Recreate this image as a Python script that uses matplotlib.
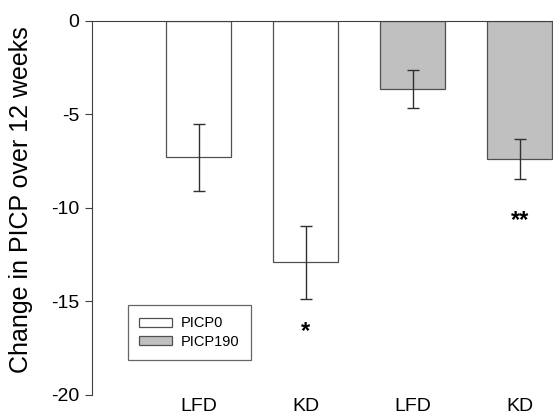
import matplotlib.pyplot as plt

plt.rcParams['font.family'] = ['Liberation Sans', 'DejaVu Sans']

groups = ["LFD", "KD", "LFD", "KD"]
series = ["PICP0", "PICP0", "PICP190", "PICP190"]
values = [-7.3, -12.9, -3.65, -7.4]
errors = [1.8, 1.95, 1.0, 1.07]
stars = ["", "*", "", "**"]
star_y = [None, -16.6, None, -10.7]

colors = {"PICP0": "white", "PICP190": "#c0c0c0"}

fig = plt.figure(figsize=(5.53, 4.17), dpi=100)
ax = fig.add_axes([0.166, 0.053, 0.834, 0.897])

pos = [1, 2, 3, 4]
for x, s, v, e in zip(pos, series, values, errors):
    ax.bar(x, v, width=0.61, color=colors[s], edgecolor="#505050", linewidth=0.9,
           label=s)
    ax.errorbar(x, v, yerr=e, fmt="none", ecolor="#303030", elinewidth=1,
                capsize=4.3, capthick=1)

for x, s, y in zip(pos, stars, star_y):
    if s:
        ax.text(x, y, s, ha="center", va="center", fontsize=17, fontweight="bold")

ax.set_xlim(0, 4.31)
ax.set_ylim(-20, 0)
ax.set_yticks([0, -5, -10, -15, -20])
ax.set_yticklabels(["0", "-5", "-10", "-15", "-20"], fontsize=14)
ax.set_xticks(pos)
ax.set_xticklabels(groups, fontsize=14)
ax.tick_params(axis="x", length=0, pad=2)
ax.tick_params(axis="y", length=5, color="#404040", pad=4)
ax.set_ylabel("Change in PICP over 12 weeks", fontsize=18)
ax.yaxis.set_label_coords(-0.128, 0.521)

for side in ["right", "bottom"]:
    ax.spines[side].set_visible(False)
ax.spines["left"].set_color("#404040")
ax.spines["top"].set_color("#404040")

handles, labels = ax.get_legend_handles_labels()
uniq = dict(zip(labels, handles))
leg = ax.legend(uniq.values(), uniq.keys(), loc="lower left",
                bbox_to_anchor=(0.078, 0.094), borderaxespad=0, fontsize=10.5,
                frameon=True, fancybox=False, edgecolor="#404040",
                handlelength=2.3, handleheight=0.6, handletextpad=0.6,
                borderpad=0.75, labelspacing=0.3)
leg.get_frame().set_linewidth(0.9)

fig.savefig("out.png", dpi=100)
